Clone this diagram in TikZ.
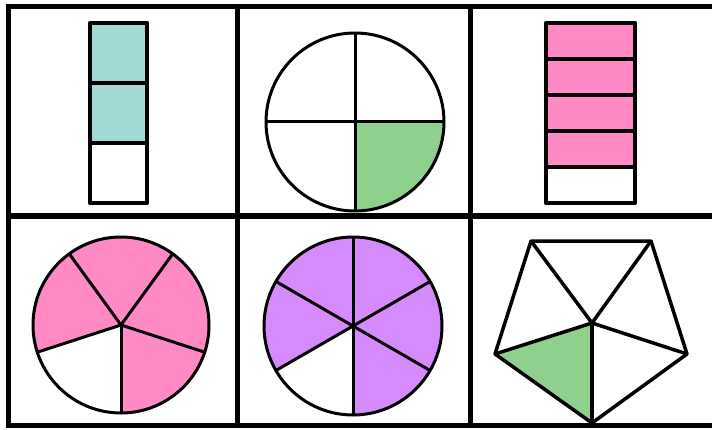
\documentclass[tikz,border=0pt]{standalone}
\usepackage{xcolor}
\usepackage{tikz}
\usetikzlibrary{calc}
\definecolor{myteal}{RGB}{163,217,213}
\definecolor{mygreen}{RGB}{143,208,140}
\definecolor{mypink}{RGB}{255,138,197}
\definecolor{mypurple}{RGB}{213,139,251}
\tikzset{
  gridline/.style={line width=5pt, color=black},
  barline/.style={line width=4.6pt, color=black, line join=round},
  pieline/.style={line width=3pt, color=black, line join=round},
  polyline/.style={line width=3.5pt, color=black, line join=round}
}

\begin{document}
\begin{tikzpicture}[x=1pt, y=1pt]
  \useasboundingbox (0,0) rectangle (712,429);
  \clip (0,0) rectangle (712,429);
  \fill[white] (0,0) rectangle (712,429);

  % ── Panel 1: bar of thirds ───────────────────────────────────────────────
  \coordinate (b1sw) at (90,226);
  \coordinate (b1ne) at (147,406);
  \fill[myteal] (90,286) rectangle (b1ne);
  \draw[barline] (b1sw) rectangle (b1ne);
  \draw[barline] (90,286) -- (147,286);
  \draw[barline] (90,346) -- (147,346);

  % ── Panel 2: circle in quarters ──────────────────────────────────────────
  \coordinate (c2) at (355,307);
  \fill[mygreen] (c2) -- +(270:89) arc (270:360:89) -- cycle;
  \draw[pieline] (c2) circle (89);
  \draw[pieline] ($(c2)+(-89,0)$) -- ($(c2)+(89,0)$);
  \draw[pieline] ($(c2)+(0,-89)$) -- ($(c2)+(0,89)$);

  % ── Panel 3: bar of fifths ───────────────────────────────────────────────
  \coordinate (b3sw) at (546,226);
  \coordinate (b3ne) at (635,406);
  \fill[mypink] (546,262) rectangle (b3ne);
  \draw[barline] (b3sw) rectangle (b3ne);
  \foreach \yy in {262,298,334,370}
    \draw[barline] (546,\yy) -- (635,\yy);

  % ── Panel 4: circle in fifths ────────────────────────────────────────────
  \coordinate (c4) at (121,104);
  \fill[mypink] (c4) -- +(270:88) arc (270:558:88) -- cycle;
  \draw[pieline] (c4) circle (88);
  \foreach \ang in {270,342,54,126,198}
    \draw[pieline] (c4) -- +(\ang:88);

  % ── Panel 5: circle in sixths ────────────────────────────────────────────
  \coordinate (c5) at (353,103);
  \fill[mypurple] (c5) -- +(270:89) arc (270:570:89) -- cycle;
  \draw[pieline] (c5) circle (89);
  \foreach \ang in {30,90,150,210,270,330}
    \draw[pieline] (c5) -- +(\ang:89);

  % ── Panel 6: pentagon in fifths ──────────────────────────────────────────
  \coordinate (pc) at (592,106);
  \coordinate (ptl) at (531,188);
  \coordinate (ptr) at (651,188);
  \coordinate (pr) at (687,75);
  \coordinate (pb) at (592,6);
  \coordinate (pl) at (495,75);
  \fill[mygreen] (pc) -- (pl) -- (pb) -- cycle;
  \draw[polyline] (ptl) -- (ptr) -- (pr) -- (pb) -- (pl) -- cycle;
  \foreach \pt in {ptl,ptr,pr,pb,pl}
    \draw[polyline] (pc) -- (\pt);

  % ── Grid frame ───────────────────────────────────────────────────────────
  \draw[gridline] (8,422) -- (720,422);
  \draw[gridline] (8,213) -- (720,213);
  \draw[gridline] (8,4) -- (720,4);
  \draw[gridline] (8,424.5) -- (8,1.5);
  \draw[gridline] (237,424.5) -- (237,1.5);
  \draw[gridline] (470,424.5) -- (470,1.5);
\end{tikzpicture}
\end{document}
